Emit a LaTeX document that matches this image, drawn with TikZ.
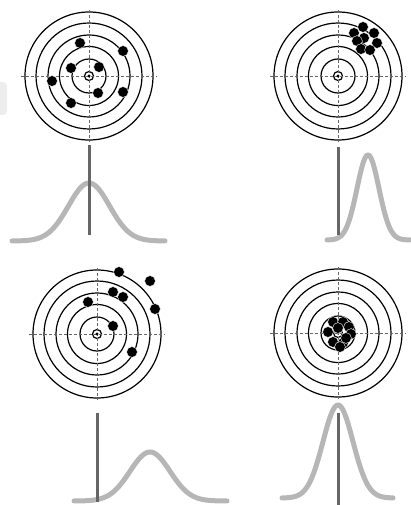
\documentclass[tikz,border=0pt]{standalone}
\usepackage{tikz}
\usetikzlibrary{calc}
\definecolor{curvegray}{HTML}{B6B6B6}
\definecolor{axisgray}{HTML}{666666}
\newcommand{\tgt}[1]{%
  \foreach \r in {64,53,41,29.5,17,4.5}
    \draw[line width=1.2pt] (#1) circle [radius=\r pt];
  \draw[densely dashed, line width=.5pt, black!60] ($(#1)+(-68,0)$) -- ($(#1)+(68,0)$);
  \draw[densely dashed, line width=.5pt, black!60] ($(#1)+(0,-66)$) -- ($(#1)+(0,66)$);
  \fill (#1) circle [radius=1.6pt];
}
\newcommand{\bell}[5]{%
  \draw[curvegray, line width=5pt, line cap=round, line join=round]
    plot[domain=#1, samples=90, smooth] (\x, {#4-#5*exp(-0.5*((\x-#2)/#3)*((\x-#2)/#3))});
}

\begin{document}
\begin{tikzpicture}[x=1pt, y=-1pt, dot/.style={fill=black, draw=white, line width=.4pt}]
  \useasboundingbox (0,0) rectangle (410,505);
  \fill[black!7, rounded corners=4pt] (-6,82) rectangle (7,115);
  \coordinate (t1) at (89,76);
  \coordinate (t2) at (338,76);
  \coordinate (t3) at (97,334);
  \coordinate (t4) at (338,333);
  \tgt{t1}
  \tgt{t2}
  \tgt{t3}
  \tgt{t4}
  \foreach \dx/\dy in {-9/-33,34/-25,-18/-8,10/-9,-37/5,9/17,34/16,-18/27}
    \filldraw[dot] ($(t1)+(\dx,\dy)$) circle [radius=5.4pt];
  \foreach \dx/\dy in {25/-49,16/-43,36/-43,26/-38,19/-35,39/-33,23/-27,32/-26}
    \filldraw[dot] ($(t2)+(\dx,\dy)$) circle [radius=5.4pt];
  \foreach \dx/\dy in {22/-62,53/-53,16/-42,26/-37,-9/-32,58/-25,16/-8,35/18}
    \filldraw[dot] ($(t3)+(\dx,\dy)$) circle [radius=5.4pt];
  \foreach \dx/\dy in {-5/-11,5/-11,11/-6,-10/-1,0/-5,13/1,-5/9,5/10,2/14,8/5}
    \filldraw[dot] ($(t4)+(\dx,\dy)$) circle [radius=5.4pt];
  \bell{12:165}{89}{20.5}{241}{58}
  \bell{327:410}{368}{11}{240}{85}
  \bell{74:227}{150}{20}{501}{49}
  \bell{282:393}{338}{15}{498}{93}
  \coordinate (a1) at (89,145);  \coordinate (b1) at (89,235);
  \coordinate (a2) at (338,147); \coordinate (b2) at (338,235);
  \coordinate (a3) at (97,413);  \coordinate (b3) at (97,502);
  \coordinate (a4) at (338,413); \coordinate (b4) at (338,505);
  \foreach \i in {1,2,3,4}
    \draw[axisgray, line width=3pt] (a\i) -- (b\i);
\end{tikzpicture}
\end{document}
